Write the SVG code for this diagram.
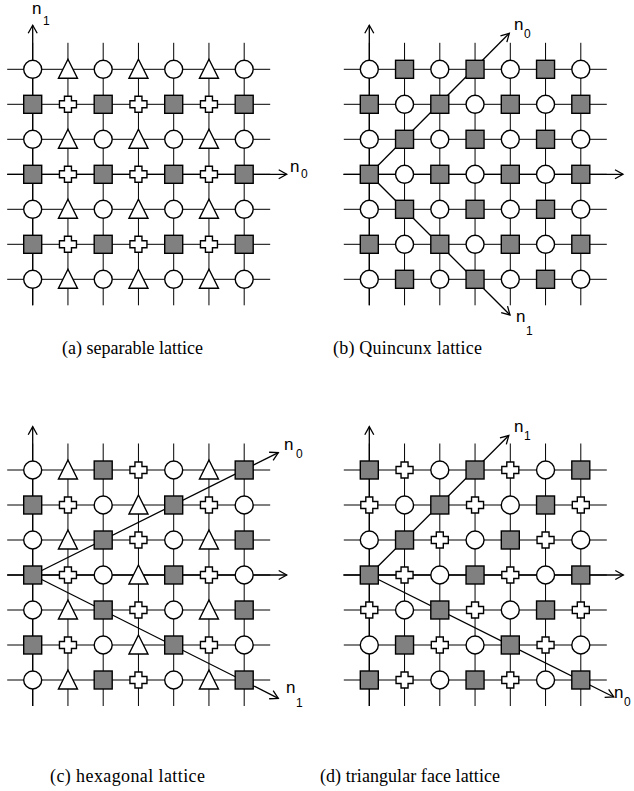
<svg xmlns="http://www.w3.org/2000/svg" width="634" height="791" viewBox="0 0 634 791">
<style>
.grid{fill:none;stroke:#000;stroke-width:1}
.ax{fill:none;stroke:#000;stroke-width:1.3;marker-end:url(#ah)}
.nd{stroke:#000;stroke-width:1.4}
.lbl{font-family:"Liberation Sans",Arial,sans-serif;font-size:17px;fill:#000}
.sub{font-family:"Liberation Sans",Arial,sans-serif;font-size:12px;fill:#000}
.cap{font-size:18px;fill:#000}
</style>
<defs>
<marker id="ah" viewBox="-10 -6 12 12" refX="0" refY="0" markerWidth="12" markerHeight="12" orient="auto" markerUnits="userSpaceOnUse"><path d="M-8,-4.5L0,0L-8,4.5" fill="none" stroke="#000" stroke-width="1.3"/></marker>
<path id="grid" class="grid" d="M-25.5 0H237.5M-25.5 35H237.5M-25.5 70H237.5M-25.5 105H237.5M-25.5 140H237.5M-25.5 175H237.5M-25.5 210H237.5M0 -26.5V236M35.25 -26.5V236M70.5 -26.5V236M105.75 -26.5V236M141 -26.5V236M176.25 -26.5V236M211.5 -26.5V236"/>
<circle id="C" class="nd" r="9" fill="#fff"/>
<rect id="S" class="nd" x="-9" y="-9" width="18" height="18" fill="#808080"/>
<polygon id="T" class="nd" points="0,-10 9.5,9 -9.5,9" fill="#fff"/>
<path id="P" class="nd" d="M-3.5,-8H3.5V-3.5H8.5V3.5H3.5V8H-3.5V3.5H-8.5V-3.5H-3.5Z" fill="#fff"/>
</defs>
<rect width="634" height="791" fill="#fff"/>

<!-- Panel (a) -->
<g id="panel-a" transform="translate(32.7,69.3)">
<use href="#grid"/>
<g id="connectors-a">
<path class="ax" d="M0 236V-44"/>
<path class="ax" d="M-25.5 105H254"/>
</g>
<g id="a-r0c0"><use href="#C" x="0" y="0"/></g><g id="a-r0c1"><use href="#T" x="35.25" y="0"/></g><g id="a-r0c2"><use href="#C" x="70.5" y="0"/></g><g id="a-r0c3"><use href="#T" x="105.75" y="0"/></g><g id="a-r0c4"><use href="#C" x="141" y="0"/></g><g id="a-r0c5"><use href="#T" x="176.25" y="0"/></g><g id="a-r0c6"><use href="#C" x="211.5" y="0"/></g>
<g id="a-r1c0"><use href="#S" x="0" y="35"/></g><g id="a-r1c1"><use href="#P" x="35.25" y="35"/></g><g id="a-r1c2"><use href="#S" x="70.5" y="35"/></g><g id="a-r1c3"><use href="#P" x="105.75" y="35"/></g><g id="a-r1c4"><use href="#S" x="141" y="35"/></g><g id="a-r1c5"><use href="#P" x="176.25" y="35"/></g><g id="a-r1c6"><use href="#S" x="211.5" y="35"/></g>
<g id="a-r2c0"><use href="#C" x="0" y="70"/></g><g id="a-r2c1"><use href="#T" x="35.25" y="70"/></g><g id="a-r2c2"><use href="#C" x="70.5" y="70"/></g><g id="a-r2c3"><use href="#T" x="105.75" y="70"/></g><g id="a-r2c4"><use href="#C" x="141" y="70"/></g><g id="a-r2c5"><use href="#T" x="176.25" y="70"/></g><g id="a-r2c6"><use href="#C" x="211.5" y="70"/></g>
<g id="a-r3c0"><use href="#S" x="0" y="105"/></g><g id="a-r3c1"><use href="#P" x="35.25" y="105"/></g><g id="a-r3c2"><use href="#S" x="70.5" y="105"/></g><g id="a-r3c3"><use href="#P" x="105.75" y="105"/></g><g id="a-r3c4"><use href="#S" x="141" y="105"/></g><g id="a-r3c5"><use href="#P" x="176.25" y="105"/></g><g id="a-r3c6"><use href="#S" x="211.5" y="105"/></g>
<g id="a-r4c0"><use href="#C" x="0" y="140"/></g><g id="a-r4c1"><use href="#T" x="35.25" y="140"/></g><g id="a-r4c2"><use href="#C" x="70.5" y="140"/></g><g id="a-r4c3"><use href="#T" x="105.75" y="140"/></g><g id="a-r4c4"><use href="#C" x="141" y="140"/></g><g id="a-r4c5"><use href="#T" x="176.25" y="140"/></g><g id="a-r4c6"><use href="#C" x="211.5" y="140"/></g>
<g id="a-r5c0"><use href="#S" x="0" y="175"/></g><g id="a-r5c1"><use href="#P" x="35.25" y="175"/></g><g id="a-r5c2"><use href="#S" x="70.5" y="175"/></g><g id="a-r5c3"><use href="#P" x="105.75" y="175"/></g><g id="a-r5c4"><use href="#S" x="141" y="175"/></g><g id="a-r5c5"><use href="#P" x="176.25" y="175"/></g><g id="a-r5c6"><use href="#S" x="211.5" y="175"/></g>
<g id="a-r6c0"><use href="#C" x="0" y="210"/></g><g id="a-r6c1"><use href="#T" x="35.25" y="210"/></g><g id="a-r6c2"><use href="#C" x="70.5" y="210"/></g><g id="a-r6c3"><use href="#T" x="105.75" y="210"/></g><g id="a-r6c4"><use href="#C" x="141" y="210"/></g><g id="a-r6c5"><use href="#T" x="176.25" y="210"/></g><g id="a-r6c6"><use href="#C" x="211.5" y="210"/></g>
</g>
<text class="lbl" x="32" y="14">n</text><text class="sub" x="43" y="25">1</text>
<text class="lbl" x="290" y="172">n</text><text class="sub" x="301" y="178">0</text>
<text class="cap" font-family="Liberation Serif, Times New Roman, serif" x="62" y="354" textLength="141" lengthAdjust="spacing">(a) separable lattice</text>

<!-- Panel (b) -->
<g id="panel-b" transform="translate(369.3,69.3)">
<use href="#grid"/>
<g id="connectors-b">
<path class="ax" d="M0 236V-44"/>
<path class="ax" d="M-26 105H253.7"/>
<path class="ax" d="M0 105L140 -36"/>
<path class="ax" d="M0 105L140.7 245.7"/>
</g>
<g id="b-r0c0"><use href="#C" x="0" y="0"/></g><g id="b-r0c1"><use href="#S" x="35.25" y="0"/></g><g id="b-r0c2"><use href="#C" x="70.5" y="0"/></g><g id="b-r0c3"><use href="#S" x="105.75" y="0"/></g><g id="b-r0c4"><use href="#C" x="141" y="0"/></g><g id="b-r0c5"><use href="#S" x="176.25" y="0"/></g><g id="b-r0c6"><use href="#C" x="211.5" y="0"/></g>
<g id="b-r1c0"><use href="#S" x="0" y="35"/></g><g id="b-r1c1"><use href="#C" x="35.25" y="35"/></g><g id="b-r1c2"><use href="#S" x="70.5" y="35"/></g><g id="b-r1c3"><use href="#C" x="105.75" y="35"/></g><g id="b-r1c4"><use href="#S" x="141" y="35"/></g><g id="b-r1c5"><use href="#C" x="176.25" y="35"/></g><g id="b-r1c6"><use href="#S" x="211.5" y="35"/></g>
<g id="b-r2c0"><use href="#C" x="0" y="70"/></g><g id="b-r2c1"><use href="#S" x="35.25" y="70"/></g><g id="b-r2c2"><use href="#C" x="70.5" y="70"/></g><g id="b-r2c3"><use href="#S" x="105.75" y="70"/></g><g id="b-r2c4"><use href="#C" x="141" y="70"/></g><g id="b-r2c5"><use href="#S" x="176.25" y="70"/></g><g id="b-r2c6"><use href="#C" x="211.5" y="70"/></g>
<g id="b-r3c0"><use href="#S" x="0" y="105"/></g><g id="b-r3c1"><use href="#C" x="35.25" y="105"/></g><g id="b-r3c2"><use href="#S" x="70.5" y="105"/></g><g id="b-r3c3"><use href="#C" x="105.75" y="105"/></g><g id="b-r3c4"><use href="#S" x="141" y="105"/></g><g id="b-r3c5"><use href="#C" x="176.25" y="105"/></g><g id="b-r3c6"><use href="#S" x="211.5" y="105"/></g>
<g id="b-r4c0"><use href="#C" x="0" y="140"/></g><g id="b-r4c1"><use href="#S" x="35.25" y="140"/></g><g id="b-r4c2"><use href="#C" x="70.5" y="140"/></g><g id="b-r4c3"><use href="#S" x="105.75" y="140"/></g><g id="b-r4c4"><use href="#C" x="141" y="140"/></g><g id="b-r4c5"><use href="#S" x="176.25" y="140"/></g><g id="b-r4c6"><use href="#C" x="211.5" y="140"/></g>
<g id="b-r5c0"><use href="#S" x="0" y="175"/></g><g id="b-r5c1"><use href="#C" x="35.25" y="175"/></g><g id="b-r5c2"><use href="#S" x="70.5" y="175"/></g><g id="b-r5c3"><use href="#C" x="105.75" y="175"/></g><g id="b-r5c4"><use href="#S" x="141" y="175"/></g><g id="b-r5c5"><use href="#C" x="176.25" y="175"/></g><g id="b-r5c6"><use href="#S" x="211.5" y="175"/></g>
<g id="b-r6c0"><use href="#C" x="0" y="210"/></g><g id="b-r6c1"><use href="#S" x="35.25" y="210"/></g><g id="b-r6c2"><use href="#C" x="70.5" y="210"/></g><g id="b-r6c3"><use href="#S" x="105.75" y="210"/></g><g id="b-r6c4"><use href="#C" x="141" y="210"/></g><g id="b-r6c5"><use href="#S" x="176.25" y="210"/></g><g id="b-r6c6"><use href="#C" x="211.5" y="210"/></g>
</g>
<text class="lbl" x="514" y="30">n</text><text class="sub" x="524" y="38">0</text>
<text class="lbl" x="516" y="322">n</text><text class="sub" x="526" y="335">1</text>
<text class="cap" font-family="Liberation Serif, Times New Roman, serif" x="333" y="354" textLength="149" lengthAdjust="spacing">(b) Quincunx lattice</text>

<!-- Panel (c) -->
<g id="panel-c" transform="translate(32.7,470)">
<use href="#grid"/>
<g id="connectors-c">
<path class="ax" d="M0 236V-43.3"/>
<path class="ax" d="M-25.5 105H254"/>
<path class="ax" d="M0 105L245.6 -17.3"/>
<path class="ax" d="M0 105L245.6 228.3"/>
</g>
<g id="c-r0c0"><use href="#C" x="0" y="0"/></g><g id="c-r0c1"><use href="#T" x="35.25" y="0"/></g><g id="c-r0c2"><use href="#S" x="70.5" y="0"/></g><g id="c-r0c3"><use href="#P" x="105.75" y="0"/></g><g id="c-r0c4"><use href="#C" x="141" y="0"/></g><g id="c-r0c5"><use href="#T" x="176.25" y="0"/></g><g id="c-r0c6"><use href="#S" x="211.5" y="0"/></g>
<g id="c-r1c0"><use href="#S" x="0" y="35"/></g><g id="c-r1c1"><use href="#P" x="35.25" y="35"/></g><g id="c-r1c2"><use href="#C" x="70.5" y="35"/></g><g id="c-r1c3"><use href="#T" x="105.75" y="35"/></g><g id="c-r1c4"><use href="#S" x="141" y="35"/></g><g id="c-r1c5"><use href="#P" x="176.25" y="35"/></g><g id="c-r1c6"><use href="#C" x="211.5" y="35"/></g>
<g id="c-r2c0"><use href="#C" x="0" y="70"/></g><g id="c-r2c1"><use href="#T" x="35.25" y="70"/></g><g id="c-r2c2"><use href="#S" x="70.5" y="70"/></g><g id="c-r2c3"><use href="#P" x="105.75" y="70"/></g><g id="c-r2c4"><use href="#C" x="141" y="70"/></g><g id="c-r2c5"><use href="#T" x="176.25" y="70"/></g><g id="c-r2c6"><use href="#S" x="211.5" y="70"/></g>
<g id="c-r3c0"><use href="#S" x="0" y="105"/></g><g id="c-r3c1"><use href="#P" x="35.25" y="105"/></g><g id="c-r3c2"><use href="#C" x="70.5" y="105"/></g><g id="c-r3c3"><use href="#T" x="105.75" y="105"/></g><g id="c-r3c4"><use href="#S" x="141" y="105"/></g><g id="c-r3c5"><use href="#P" x="176.25" y="105"/></g><g id="c-r3c6"><use href="#C" x="211.5" y="105"/></g>
<g id="c-r4c0"><use href="#C" x="0" y="140"/></g><g id="c-r4c1"><use href="#T" x="35.25" y="140"/></g><g id="c-r4c2"><use href="#S" x="70.5" y="140"/></g><g id="c-r4c3"><use href="#P" x="105.75" y="140"/></g><g id="c-r4c4"><use href="#C" x="141" y="140"/></g><g id="c-r4c5"><use href="#T" x="176.25" y="140"/></g><g id="c-r4c6"><use href="#S" x="211.5" y="140"/></g>
<g id="c-r5c0"><use href="#S" x="0" y="175"/></g><g id="c-r5c1"><use href="#P" x="35.25" y="175"/></g><g id="c-r5c2"><use href="#C" x="70.5" y="175"/></g><g id="c-r5c3"><use href="#T" x="105.75" y="175"/></g><g id="c-r5c4"><use href="#S" x="141" y="175"/></g><g id="c-r5c5"><use href="#P" x="176.25" y="175"/></g><g id="c-r5c6"><use href="#C" x="211.5" y="175"/></g>
<g id="c-r6c0"><use href="#C" x="0" y="210"/></g><g id="c-r6c1"><use href="#T" x="35.25" y="210"/></g><g id="c-r6c2"><use href="#S" x="70.5" y="210"/></g><g id="c-r6c3"><use href="#P" x="105.75" y="210"/></g><g id="c-r6c4"><use href="#C" x="141" y="210"/></g><g id="c-r6c5"><use href="#T" x="176.25" y="210"/></g><g id="c-r6c6"><use href="#S" x="211.5" y="210"/></g>
</g>
<text class="lbl" x="284" y="450">n</text><text class="sub" x="296" y="458">0</text>
<text class="lbl" x="286" y="693">n</text><text class="sub" x="296" y="707">1</text>
<text class="cap" font-family="Liberation Serif, Times New Roman, serif" x="50" y="782" textLength="155" lengthAdjust="spacing">(c) hexagonal lattice</text>

<!-- Panel (d) -->
<g id="panel-d" transform="translate(369.3,470)">
<use href="#grid"/>
<g id="connectors-d">
<path class="ax" d="M0 236V-43.3"/>
<path class="ax" d="M-26 105H254"/>
<path class="ax" d="M0 105L139.5 -34.5"/>
<path class="ax" d="M0 105L244.5 227"/>
</g>
<g id="d-r0c0"><use href="#S" x="0" y="0"/></g><g id="d-r0c1"><use href="#P" x="35.25" y="0"/></g><g id="d-r0c2"><use href="#C" x="70.5" y="0"/></g><g id="d-r0c3"><use href="#S" x="105.75" y="0"/></g><g id="d-r0c4"><use href="#P" x="141" y="0"/></g><g id="d-r0c5"><use href="#C" x="176.25" y="0"/></g><g id="d-r0c6"><use href="#S" x="211.5" y="0"/></g>
<g id="d-r1c0"><use href="#P" x="0" y="35"/></g><g id="d-r1c1"><use href="#C" x="35.25" y="35"/></g><g id="d-r1c2"><use href="#S" x="70.5" y="35"/></g><g id="d-r1c3"><use href="#P" x="105.75" y="35"/></g><g id="d-r1c4"><use href="#C" x="141" y="35"/></g><g id="d-r1c5"><use href="#S" x="176.25" y="35"/></g><g id="d-r1c6"><use href="#P" x="211.5" y="35"/></g>
<g id="d-r2c0"><use href="#C" x="0" y="70"/></g><g id="d-r2c1"><use href="#S" x="35.25" y="70"/></g><g id="d-r2c2"><use href="#P" x="70.5" y="70"/></g><g id="d-r2c3"><use href="#C" x="105.75" y="70"/></g><g id="d-r2c4"><use href="#S" x="141" y="70"/></g><g id="d-r2c5"><use href="#P" x="176.25" y="70"/></g><g id="d-r2c6"><use href="#C" x="211.5" y="70"/></g>
<g id="d-r3c0"><use href="#S" x="0" y="105"/></g><g id="d-r3c1"><use href="#P" x="35.25" y="105"/></g><g id="d-r3c2"><use href="#C" x="70.5" y="105"/></g><g id="d-r3c3"><use href="#S" x="105.75" y="105"/></g><g id="d-r3c4"><use href="#P" x="141" y="105"/></g><g id="d-r3c5"><use href="#C" x="176.25" y="105"/></g><g id="d-r3c6"><use href="#S" x="211.5" y="105"/></g>
<g id="d-r4c0"><use href="#P" x="0" y="140"/></g><g id="d-r4c1"><use href="#C" x="35.25" y="140"/></g><g id="d-r4c2"><use href="#S" x="70.5" y="140"/></g><g id="d-r4c3"><use href="#P" x="105.75" y="140"/></g><g id="d-r4c4"><use href="#C" x="141" y="140"/></g><g id="d-r4c5"><use href="#S" x="176.25" y="140"/></g><g id="d-r4c6"><use href="#P" x="211.5" y="140"/></g>
<g id="d-r5c0"><use href="#C" x="0" y="175"/></g><g id="d-r5c1"><use href="#S" x="35.25" y="175"/></g><g id="d-r5c2"><use href="#P" x="70.5" y="175"/></g><g id="d-r5c3"><use href="#C" x="105.75" y="175"/></g><g id="d-r5c4"><use href="#S" x="141" y="175"/></g><g id="d-r5c5"><use href="#P" x="176.25" y="175"/></g><g id="d-r5c6"><use href="#C" x="211.5" y="175"/></g>
<g id="d-r6c0"><use href="#S" x="0" y="210"/></g><g id="d-r6c1"><use href="#P" x="35.25" y="210"/></g><g id="d-r6c2"><use href="#C" x="70.5" y="210"/></g><g id="d-r6c3"><use href="#S" x="105.75" y="210"/></g><g id="d-r6c4"><use href="#P" x="141" y="210"/></g><g id="d-r6c5"><use href="#C" x="176.25" y="210"/></g><g id="d-r6c6"><use href="#S" x="211.5" y="210"/></g>
</g>
<text class="lbl" x="614" y="698">n</text><text class="sub" x="624" y="706">0</text>
<text class="lbl" x="514" y="432">n</text><text class="sub" x="524" y="440">1</text>
<text class="cap" font-family="Liberation Serif, Times New Roman, serif" x="320" y="782" textLength="180" lengthAdjust="spacing">(d) triangular face lattice</text>
</svg>
